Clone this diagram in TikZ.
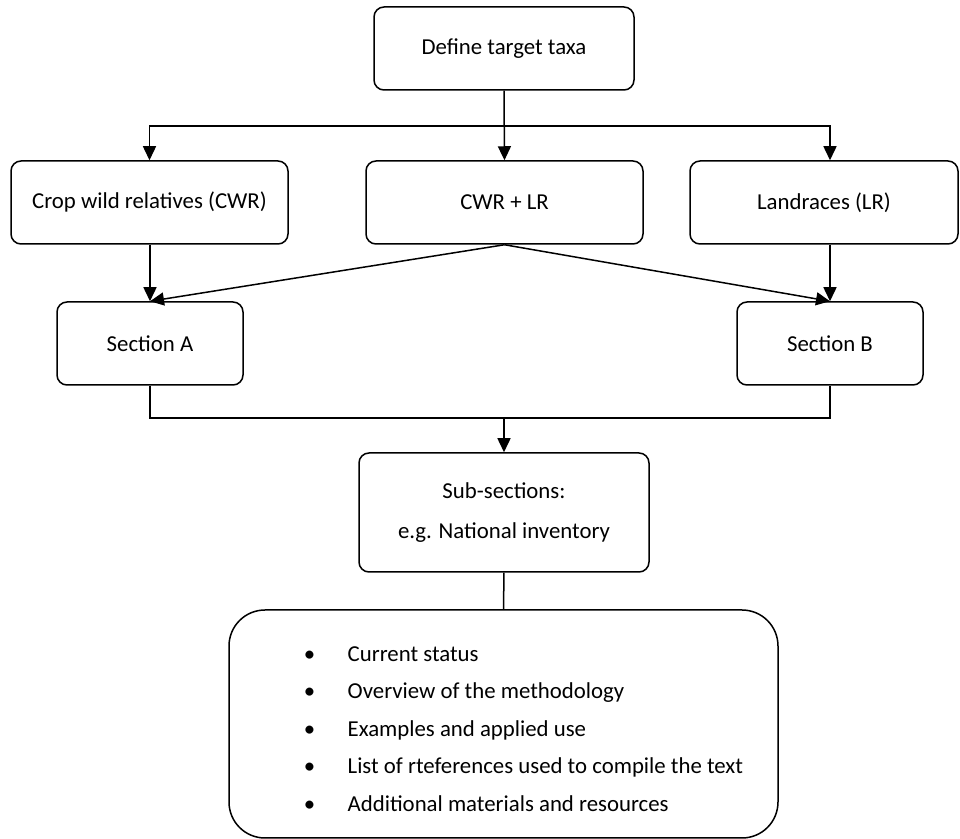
\documentclass[tikz,border=0pt]{standalone}
\usepackage{fontspec}
\setmainfont{Carlito}
\usetikzlibrary{arrows.meta}

\begin{document}
\begin{tikzpicture}[x=0.5pt, y=-0.5pt, line width=0.75pt,
  box/.style={draw, rounded corners=5pt, align=center, font=\fontsize{11.4pt}{13.8pt}\selectfont},
  arr/.style={-{Triangle[length=7pt, width=6.5pt]}}]
\useasboundingbox (0,0) rectangle (960,839);
\node [box, minimum width=130pt, minimum height=41.5pt] (taxa) at (504,48.5) {Define target taxa};
\node [box, minimum width=138.5pt, minimum height=41.5pt] (cwr) at (149.5,202.5) {Crop wild relatives (CWR)};
\node [box, minimum width=138.5pt, minimum height=41.5pt] (both) at (504.5,202.5) {CWR + LR};
\node [box, minimum width=134pt, minimum height=41.5pt] (lr) at (824,202.5) {Landraces (LR)};
\node [box, minimum width=93pt, minimum height=41.5pt] (secA) at (150,343.5) {Section A};
\node [box, minimum width=93pt, minimum height=41.5pt] (secB) at (830,343.5) {Section B};
\node [box, minimum width=145pt, minimum height=59.5pt, font=\fontsize{11.4pt}{20pt}\selectfont] (sub) at (504,512.5) {Sub-sections:\\e.g. National inventory};
\node [box, rounded corners=18pt, minimum width=274.5pt, minimum height=114pt] (list) at (503.5,724) {};
\node [anchor=west, inner sep=0pt, font=\fontsize{11.4pt}{18.75pt}\selectfont] (items) at (303,729) {%
  \begin{tabular}{@{}l@{\hspace{16.3pt}}l@{}}
  • & Current status\\
  • & Overview of the methodology\\
  • & Examples and applied use\\
  • & List of rteferences used to compile the text\\
  • & Additional materials and resources
  \end{tabular}};
% connectors
\coordinate (split) at (504,126);
\coordinate (join) at (504,418);
\draw [arr] (taxa.south) -- (both.north);
\draw [arr] (split) -| (cwr.north);
\draw [arr] (split) -| (secB.north |- lr.north);
\draw [arr] (secA.north |- cwr.south) -- (secA.north);
\draw [arr] (secB.north |- lr.south) -- (secB.north);
\draw [arr] (both.south) -- (secA.north);
\draw [arr] (both.south) -- (secB.north);
\draw (secA.south) |- (join) -| (secB.south);
\draw [arr] (join) -- (sub.north);
\draw (sub.south) -- (list.north);
\end{tikzpicture}
\end{document}
